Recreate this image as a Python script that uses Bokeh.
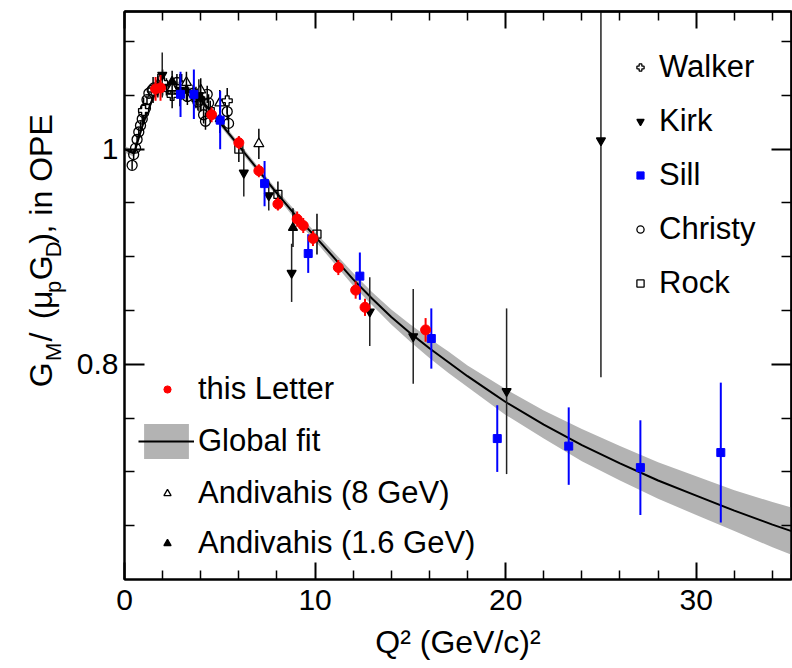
from bokeh.plotting import figure
from bokeh.layouts import row
from bokeh.models import (ColumnDataSource, FixedTicker, Label, Legend, LegendItem,
                          LinearAxis, Range1d)
from bokeh.embed import file_html
from bokeh.resources import INLINE

FONT = "Liberation Sans"

# ---------------------------------------------------------------- data
# global fit curve and its uncertainty band
fit_q = [0, 0.5, 1, 1.5, 2, 2.5, 3, 3.5, 4, 4.5, 5, 5.5, 6, 7, 8, 9, 10, 11, 12,
         13, 14, 15, 16, 17, 18, 19, 20, 22, 24, 26, 28, 30, 32, 34, 35]
fit_v = [1.000, 0.996, 1.025, 1.048, 1.058, 1.061, 1.059, 1.054, 1.046, 1.036,
         1.025, 1.014, 1.003, 0.981, 0.959, 0.938, 0.919, 0.899, 0.879, 0.861,
         0.844, 0.829, 0.815, 0.802, 0.789, 0.777, 0.765, 0.744, 0.725, 0.708,
         0.692, 0.678, 0.664, 0.651, 0.645]
fit_err = [0.003, 0.003, 0.003, 0.003, 0.003, 0.003, 0.003, 0.003, 0.003, 0.003,
           0.003, 0.003, 0.003, 0.003, 0.003, 0.004, 0.004, 0.005, 0.006, 0.006,
           0.007, 0.008, 0.009, 0.010, 0.010, 0.011, 0.012, 0.013, 0.015, 0.016,
           0.017, 0.018, 0.019, 0.021, 0.022]

# this Letter
letter_q = [1.63, 1.89, 4.57, 6.00, 7.05, 8.05, 9.06, 9.38, 9.89, 11.22, 12.13, 12.62, 15.80]
letter_v = [1.056, 1.057, 1.032, 1.006, 0.980, 0.949, 0.935, 0.929, 0.917, 0.890, 0.869, 0.853, 0.832]
letter_e = [0.011, 0.012, 0.007, 0.006, 0.006, 0.006, 0.007, 0.007, 0.007, 0.007, 0.008, 0.008, 0.011]

# Sill
sill_q = [2.94, 3.64, 5.02, 7.35, 9.64, 12.35, 16.10, 19.56, 23.31, 27.07, 31.29]
sill_v = [1.051, 1.051, 1.027, 0.968, 0.903, 0.882, 0.824, 0.731, 0.724, 0.704, 0.718]
sill_e = [0.021, 0.023, 0.027, 0.021, 0.018, 0.022, 0.028, 0.031, 0.036, 0.044, 0.065]

# Kirk
kirk_q = [1.98, 2.90, 3.90, 6.26, 7.57, 8.77, 12.87, 15.15, 20.05, 25.00]
kirk_v = [1.069, 1.055, 1.050, 0.978, 0.957, 0.885, 0.849, 0.826, 0.775, 1.008]
kirk_e = [0.021, 0.015, 0.015, 0.022, 0.014, 0.027, 0.032, 0.044, 0.077, 0.220]

# Walker
walker_q = [1.00, 1.50, 2.00, 2.50, 3.00, 5.39]
walker_v = [1.036, 1.055, 1.062, 1.050, 1.058, 1.045]
walker_e = [0.012, 0.012, 0.012, 0.012, 0.012, 0.012]

# Christy
christy_q = [0.40, 0.48, 0.58, 0.66, 0.75, 0.84, 0.93, 1.01, 1.10, 1.18, 1.28, 1.45,
             1.54, 2.20, 2.50, 2.75, 3.05, 3.30, 3.60, 3.85, 4.15, 4.25, 4.34, 4.41,
             5.39, 5.46]
christy_v = [0.985, 0.995, 1.001, 1.009, 1.016, 1.022, 1.028, 1.034, 1.038, 1.046,
             1.052, 1.055, 1.057, 1.058, 1.053, 1.062, 1.056, 1.049, 1.052, 1.044,
             1.032, 1.026, 1.051, 1.043, 1.035, 1.024]
christy_e = [0.004] * 13 + [0.008] * 13

# Rock
rock_q = [2.50, 3.75, 4.00, 4.50, 6.00, 8.05, 10.10]
rock_v = [1.055, 1.048, 1.045, 1.035, 1.000, 0.958, 0.921]
rock_e = [0.010, 0.010, 0.010, 0.010, 0.012, 0.012, 0.019]

# Andivahis (8 GeV)
andi8_q = [1.75, 2.50, 3.25, 4.00, 5.00, 7.05]
andi8_v = [1.060, 1.057, 1.062, 1.055, 1.043, 1.005]
andi8_e = [0.010, 0.010, 0.010, 0.011, 0.012, 0.014]

# Andivahis (1.6 GeV)
andi16_q = [1.75, 2.50, 3.25, 4.00, 5.00, 8.84]
andi16_v = [1.058, 1.063, 1.055, 1.048, 1.028, 0.927]
andi16_e = [0.010, 0.010, 0.011, 0.012, 0.013, 0.018]

# axes
x_range = (0, 35)
y_range = (0.6, 1.128)
x_major_ticks = [0, 10, 20, 30]
x_minor_ticks = [2, 4, 6, 8, 12, 14, 16, 18, 22, 24, 26, 28, 32, 34]
y_major_ticks = [0.8, 1.0]
y_minor_ticks = [0.65, 0.7, 0.75, 0.85, 0.9, 0.95, 1.05, 1.1]
y_tick_labels = {0.8: "0.8", 1: "1"}

# ---------------------------------------------------------------- layout
PAGE_W, PAGE_H = 792, 668
TITLE_W = 70                      # strip holding the vertical y title
LEFT, RIGHT, TOP, BOTTOM = 124, 1, 11, 89
FRAME_W, FRAME_H = 667, 568

p = figure(frame_width=FRAME_W, frame_height=FRAME_H,
           x_range=Range1d(*x_range), y_range=Range1d(*y_range),
           output_backend="svg", toolbar_location=None,
           min_border_left=LEFT - TITLE_W, min_border_right=RIGHT,
           min_border_top=TOP, min_border_bottom=BOTTOM)
p.background_fill_color = "white"
p.border_fill_color = "white"
p.outline_line_color = "black"
p.outline_line_width = 2
p.xgrid.visible = False
p.ygrid.visible = False


def style_axis(ax, major_in, minor_in, label_size="30px", standoff=0):
    ax.axis_line_color = "black"
    ax.axis_line_width = 2
    ax.major_tick_in = major_in
    ax.major_tick_out = 0
    ax.minor_tick_in = minor_in
    ax.minor_tick_out = 0
    ax.major_tick_line_color = "black"
    ax.major_tick_line_width = 2
    ax.minor_tick_line_color = "black"
    ax.minor_tick_line_width = 2 if minor_in > 12 else 1.5
    ax.major_label_text_font = FONT
    ax.major_label_text_font_size = label_size
    ax.major_label_text_color = "black"
    ax.major_label_standoff = standoff


xt = FixedTicker(ticks=x_major_ticks, minor_ticks=x_minor_ticks)
yt = FixedTicker(ticks=y_major_ticks, minor_ticks=y_minor_ticks)

p.xaxis.ticker = xt
p.yaxis.ticker = yt
style_axis(p.xaxis[0], 17, 9, "30px", 10)
style_axis(p.yaxis[0], 20, 10, "30px", 6)
p.yaxis.major_label_overrides = y_tick_labels
p.xaxis.axis_label = "Q² (GeV/c)²"
p.xaxis.axis_label_text_font = FONT
p.xaxis.axis_label_text_font_size = "32px"
p.xaxis.axis_label_text_font_style = "normal"
p.xaxis.axis_label_text_color = "black"
p.xaxis.axis_label_standoff = 11

# tick marks on the top and right edges, without labels
for side, ticks, length in (("above", x_major_ticks, 17), ("above", x_minor_ticks, 9),
                            ("right", y_major_ticks, 20), ("right", y_minor_ticks, 10)):
    ax = LinearAxis(ticker=FixedTicker(ticks=[], minor_ticks=ticks))
    style_axis(ax, 0, length)
    p.add_layout(ax, side)

# ---------------------------------------------------------------- fit band + line
fit_src = ColumnDataSource(dict(q=fit_q, v=fit_v,
                                lo=[a - b for a, b in zip(fit_v, fit_err)],
                                hi=[a + b for a, b in zip(fit_v, fit_err)]))
band = p.varea(x="q", y1="lo", y2="hi", source=fit_src, fill_color="#b3b3b3")
fit_line = p.line(x="q", y="v", source=fit_src, line_color="black", line_width=2)


def add_series(q, v, e, marker, size, line_color, fill_color, err_color, err_width=1.5, lw=1.3):
    src = ColumnDataSource(dict(q=q, v=v,
                                lo=[a - b for a, b in zip(v, e)],
                                hi=[a + b for a, b in zip(v, e)]))
    p.segment(x0="q", y0="lo", x1="q", y1="hi", source=src,
              line_color=err_color, line_width=err_width)
    return p.scatter(x="q", y="v", source=src, marker=marker, size=size,
                     line_color=line_color, fill_color=fill_color, line_width=lw)


r_christy = add_series(christy_q, christy_v, christy_e, "circle", 10, "black", None, "black")
r_walker = add_series(walker_q, walker_v, walker_e, "plus", 10, "black", "white", "black")
r_rock = add_series(rock_q, rock_v, rock_e, "square", 8, "black", None, "black")
r_andi8 = add_series(andi8_q, andi8_v, andi8_e, "triangle", 10, "black", "white", "black")
r_andi16 = add_series(andi16_q, andi16_v, andi16_e, "triangle", 9, "black", "black", "black")
r_kirk = add_series(kirk_q, kirk_v, kirk_e, "inverted_triangle", 9, "black", "black", "#222222")
r_sill = add_series(sill_q, sill_v, sill_e, "square", 8, "blue", "blue", "blue", 2, 1)
r_letter = add_series(letter_q, letter_v, letter_e, "circle", 10, "red", "red", "red", 2, 1)

# ---------------------------------------------------------------- legends


def make_legend(items, loc, gw, gh, spacing, standoff):
    lg = Legend(items=items, location=loc, orientation="vertical",
                glyph_width=gw, glyph_height=gh, label_height=gh,
                spacing=spacing, label_standoff=standoff, padding=0, margin=0,
                border_line_color=None, background_fill_alpha=0,
                label_text_font=FONT, label_text_font_size="31px",
                label_text_color="black")
    p.add_layout(lg)
    return lg


make_legend([LegendItem(label="Walker", renderers=[r_walker]),
             LegendItem(label="Kirk", renderers=[r_kirk]),
             LegendItem(label="Sill", renderers=[r_sill]),
             LegendItem(label="Christy", renderers=[r_christy]),
             LegendItem(label="Rock", renderers=[r_rock])],
            (507, 278), 18, 36, 18, 10)
make_legend([LegendItem(label="this Letter", renderers=[r_letter])],
            (34, 172), 18, 36, 0, 22)
make_legend([LegendItem(label="Global fit", renderers=[band, fit_line])],
            (14, 116), 56, 44, 0, 4)
make_legend([LegendItem(label="Andivahis (8 GeV)", renderers=[r_andi8]),
             LegendItem(label="Andivahis (1.6 GeV)", renderers=[r_andi16])],
            (34, 18), 18, 36, 14, 22)

# ---------------------------------------------------------------- y title strip
# a narrow canvas left of the plot whose coordinates are page pixels
t = figure(width=TITLE_W, height=PAGE_H, x_range=Range1d(0, TITLE_W),
           y_range=Range1d(PAGE_H, 0), x_axis_type=None, y_axis_type=None,
           output_backend="svg", toolbar_location=None,
           min_border=0, min_border_left=0, min_border_right=0,
           min_border_top=0, min_border_bottom=0)
t.outline_line_color = None
t.background_fill_color = "white"
t.border_fill_color = "white"

# pieces: text, y where the piece starts (reading upwards), subscript flag
title_pieces = [("G", 442, False), ("M", 411, True), ("/", 388, False),
                ("(", 362, False), ("μ", 350, False), ("p", 331, True),
                ("G", 316, False), ("D", 289, True), (")", 273, False),
                (", in OPE", 261, False)]
for text, y0, sub in title_pieces:
    t.add_layout(Label(x=53 if sub else 40, y=y0, text=text,
                       angle=90, angle_units="deg", text_align="left",
                       text_baseline="alphabetic", text_font=FONT,
                       text_font_size="22px" if sub else "32px", text_color="black"))

layout = row(t, p, spacing=0)
open("out.html", "w").write(file_html(layout, INLINE))
